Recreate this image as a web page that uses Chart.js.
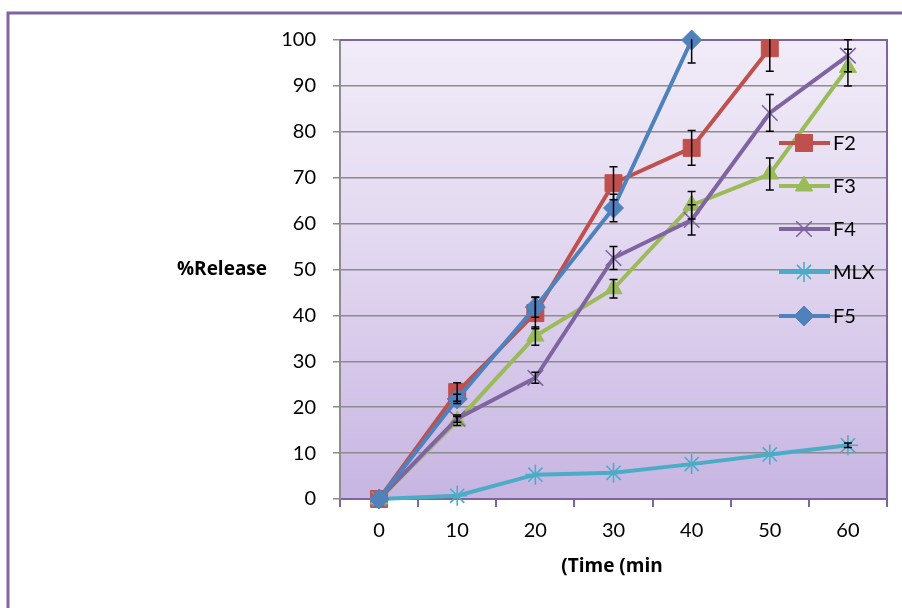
<!DOCTYPE html>
<html lang="en">
<head>
    <meta charset="UTF-8">
    <title>%Release</title>
    <script src="https://cdn.jsdelivr.net/npm/chart.js"></script>
    <style>
        html, body {
            margin: 0;
            padding: 0;
            background: #ffffff;
        }
        .wrap {
            width: 902px;
            height: 608px;
            position: relative;
        }
    </style>
</head>
<body>

<div class="wrap">
    <canvas id="releaseChart" width="902" height="608"></canvas>
</div>

<script>
// time points (min)
const times = ['0', '10', '20', '30', '40', '50', '60'];
const yTicks = [0, 10, 20, 30, 40, 50, 60, 70, 80, 90, 100];

// % release per formula
const f2 = [0, 23.3, 40.5, 68.8, 76.5, 98.2, null];
const f3 = [0, 17, 35.5, 45.8, 64, 70.8, 94];
const f4 = [0, 17.5, 26.4, 52.5, 60.8, 84.1, 96.6];
const mlx = [0, 0.7, 5.3, 5.7, 7.6, 9.7, 11.7];
const f5 = [0, 21.8, 41.8, 63.4, 100, null, null];

// standard deviations (error bars)
const f2Err = [0, 2, 3.4, 3.6, 3.8, 5, null];
const f3Err = [0, 1, 2, 2, 3, 3.5, 4];
const f4Err = [0, 0.8, 1.2, 2.5, 3.3, 4, 3.5];
const mlxErr = [0, 0, 0, 0, 0, 0, 0.5];
const f5Err = [0, 1, 2.2, 3, 5, null, null];

const legendOrder = ['F2', 'F3', 'F4', 'MLX', 'F5'];

const frameColor = '#8064a2';
const gridColor = '#8c8c8c';

function series(label, data, err, color, style, radius, order) {
    const cross = style === 'crossRot' || style === 'star';
    return {
        label: label,
        data: data,
        errors: err,
        borderColor: color,
        backgroundColor: color,
        borderWidth: 4,
        tension: 0,
        clip: false,
        pointStyle: style,
        pointRadius: radius,
        pointHoverRadius: radius,
        pointBackgroundColor: color,
        pointBorderColor: color,
        pointBorderWidth: cross ? 1.6 : 1,
        order: order
    };
}

// background, frame, plot border
const backdrop = {
    id: 'backdrop',
    beforeDraw(chart) {
        const ctx = chart.ctx;
        const a = chart.chartArea;
        ctx.save();
        ctx.fillStyle = '#ffffff';
        ctx.fillRect(0, 0, chart.width, chart.height);

        ctx.strokeStyle = frameColor;
        ctx.lineWidth = 3;
        ctx.beginPath();
        ctx.moveTo(8, chart.height + 5);
        ctx.lineTo(8, 13);
        ctx.lineTo(chart.width + 5, 13);
        ctx.stroke();

        const g = ctx.createLinearGradient(0, a.top, 0, a.bottom);
        g.addColorStop(0, '#f1ecf8');
        g.addColorStop(0.5, '#e0d5ef');
        g.addColorStop(1, '#c7b5e2');
        ctx.fillStyle = g;
        ctx.fillRect(a.left, a.top, a.right - a.left, a.bottom - a.top);
        ctx.restore();
    },
    beforeDatasetsDraw(chart) {
        const ctx = chart.ctx;
        const a = chart.chartArea;
        ctx.save();
        ctx.strokeStyle = frameColor;
        ctx.lineWidth = 2;
        ctx.beginPath();
        ctx.moveTo(a.left, a.top);
        ctx.lineTo(a.right, a.top);
        ctx.lineTo(a.right, a.bottom);
        ctx.stroke();
        ctx.restore();
    }
};

// error bars, legend and axis titles
const extras = {
    id: 'extras',
    afterDatasetsDraw(chart) {
        const ctx = chart.ctx;
        const a = chart.chartArea;
        const xs = chart.scales.x;
        const ys = chart.scales.y;

        ctx.save();
        ctx.beginPath();
        ctx.rect(a.left, a.top - 1, a.right - a.left, a.bottom - a.top + 2);
        ctx.clip();
        ctx.strokeStyle = '#000000';
        ctx.lineWidth = 1.5;
        chart.data.datasets.forEach(ds => {
            ds.data.forEach((v, i) => {
                const e = ds.errors[i];
                if (v === null || !e) return;
                const x = xs.getPixelForValue(i);
                const hi = ys.getPixelForValue(v + e);
                const lo = ys.getPixelForValue(v - e);
                ctx.beginPath();
                ctx.moveTo(x, hi);
                ctx.lineTo(x, lo);
                ctx.moveTo(x - 4, hi);
                ctx.lineTo(x + 4, hi);
                ctx.moveTo(x - 4, lo);
                ctx.lineTo(x + 4, lo);
                ctx.stroke();
            });
        });
        ctx.restore();

        // legend inside the plot
        const legendY = [143, 186, 229, 272, 316];
        ctx.save();
        legendOrder.forEach((name, k) => {
            const ds = chart.data.datasets.find(d => d.label === name);
            const y = legendY[k];
            ctx.strokeStyle = ds.borderColor;
            ctx.lineWidth = 4;
            ctx.beginPath();
            ctx.moveTo(779, y);
            ctx.lineTo(830, y);
            ctx.stroke();
            ctx.fillStyle = ds.pointBackgroundColor;
            ctx.strokeStyle = ds.pointBorderColor;
            ctx.lineWidth = ds.pointBorderWidth;
            Chart.helpers.drawPoint(ctx, {
                pointStyle: ds.pointStyle,
                radius: ds.pointRadius,
                rotation: 0,
                borderWidth: ds.pointBorderWidth
            }, 804, y);
            ctx.fillStyle = '#000000';
            ctx.font = '20px Lato';
            ctx.textAlign = 'left';
            ctx.textBaseline = 'middle';
            ctx.fillText(name, 833, y + 1);
        });
        ctx.restore();

        // axis titles
        ctx.save();
        ctx.fillStyle = '#000000';
        ctx.font = 'bold 19px "Open Sans"';
        ctx.textAlign = 'center';
        ctx.textBaseline = 'middle';
        ctx.fillText('%Release', 222, 270);
        ctx.fillText('(Time (min', 612, 567);
        ctx.restore();
    }
};

const ctx = document.getElementById('releaseChart').getContext('2d');
new Chart(ctx, {
    type: 'line',
    data: {
        labels: times,
        datasets: [
            series('F2', f2, f2Err, '#c0504d', 'rect', 12, 4),
            series('F3', f3, f3Err, '#9bbb59', 'triangle', 10, 3),
            series('F4', f4, f4Err, '#8064a2', 'crossRot', 11, 2),
            series('MLX', mlx, mlxErr, '#4bacc6', 'star', 10, 1),
            series('F5', f5, f5Err, '#4f81bd', 'rectRot', 10, 0)
        ]
    },
    options: {
        responsive: false,
        animation: false,
        spanGaps: false,
        layout: {
            padding: { top: 40, right: 15, left: 0, bottom: 0 }
        },
        plugins: {
            legend: { display: false },
            tooltip: { enabled: false }
        },
        scales: {
            x: {
                offset: true,
                afterFit(scale) { scale.height = 109; },
                grid: {
                    offset: true,
                    drawOnChartArea: false,
                    drawTicks: true,
                    tickLength: 8,
                    color: frameColor,
                    lineWidth: 2
                },
                border: { color: frameColor, width: 2 },
                ticks: {
                    color: '#000000',
                    padding: 12,
                    maxRotation: 0,
                    font: { family: 'Lato', size: 20 }
                }
            },
            y: {
                min: 0,
                max: 100,
                afterFit(scale) { scale.width = 340; },
                afterBuildTicks(scale) {
                    scale.ticks = yTicks.map(v => ({ value: v }));
                },
                grid: {
                    color: gridColor,
                    lineWidth: 1.5,
                    tickLength: 7,
                    drawTicks: true
                },
                border: { color: gridColor, width: 2 },
                ticks: {
                    color: '#000000',
                    padding: 17,
                    font: { family: 'Lato', size: 20 }
                }
            }
        }
    },
    plugins: [backdrop, extras]
});
</script>
</body>
</html>
